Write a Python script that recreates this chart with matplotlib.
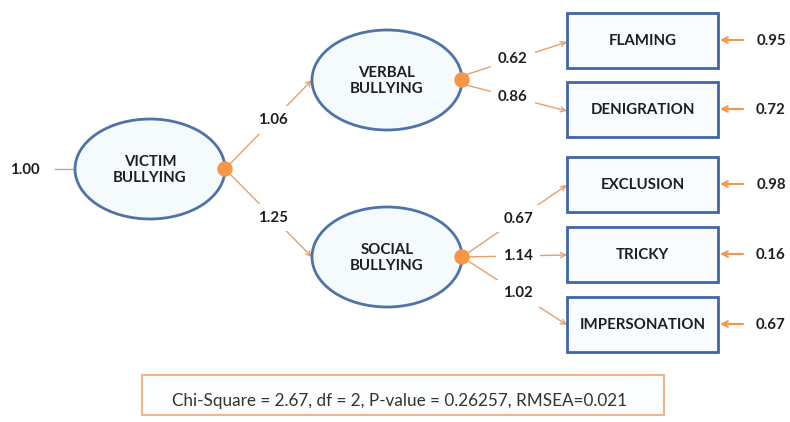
import matplotlib.pyplot as plt
from matplotlib.patches import Ellipse, Rectangle, Circle, FancyArrowPatch

# -------------------------------------------------
# Model values
# -------------------------------------------------
victim_name = 'VICTIM\nBULLYING'
factor_names = ['VERBAL\nBULLYING', 'SOCIAL\nBULLYING']
factor_loadings = [1.06, 1.25]
victim_variance = 1.00

verbal_items = ['FLAMING', 'DENIGRATION']
verbal_loadings = [0.62, 0.86]
social_items = ['EXCLUSION', 'TRICKY', 'IMPERSONATION']
social_loadings = [0.67, 1.14, 1.02]
item_errors = [0.95, 0.72, 0.98, 0.16, 0.67]

fit_text = 'Chi-Square = 2.67, df = 2, P-value = 0.26257, RMSEA=0.021'

# -------------------------------------------------
# Layout (pixel space)
# -------------------------------------------------
ell_w, ell_h = 150, 100
victim_xy = (150, 169)
factor_xy = [(387, 80), (387, 257)]
box_x, box_w, box_h = 567, 151, 55
box_y = [40, 109, 184, 254, 324]

ELL_EDGE = '#4f73a6'
ELL_FILL = '#f5fafd'
BOX_EDGE = '#4066a8'
BOX_FILL = '#f9fcfe'
DOT = '#f79646'
PATH = '#e5a06a'
TXT = '#1e1e1e'
FONT = 'Lato'
FS = 10.8

fig = plt.figure(figsize=(7.9, 4.22), dpi=100)
ax = fig.add_axes([0, 0, 1, 1])
ax.set_xlim(0, 790)
ax.set_ylim(422, 0)
ax.axis('off')


def ellipse(xy, name):
    ax.add_patch(Ellipse(xy, ell_w, ell_h, facecolor=ELL_FILL,
                         edgecolor=ELL_EDGE, lw=2, zorder=3))
    ax.text(xy[0], xy[1] + 1, name, ha='center', va='center', fontsize=FS,
            fontweight='bold', color=TXT, family=FONT, linespacing=1.2, zorder=4)
    dot = (xy[0] + ell_w / 2, xy[1])
    ax.add_patch(Circle(dot, 7, color=DOT, zorder=5))
    return dot


def path(start, end, value, label_x):
    ax.add_patch(FancyArrowPatch(start, end, arrowstyle='->', mutation_scale=9,
                                 color=PATH, lw=1, shrinkA=0, shrinkB=0, zorder=2))
    t = (label_x - start[0]) / (end[0] - start[0])
    ly = start[1] + t * (end[1] - start[1])
    ax.text(label_x, ly, f'{value:.2f}', ha='center', va='center', fontsize=FS,
            fontweight='bold', color=TXT, family=FONT, zorder=4,
            bbox=dict(boxstyle='square,pad=0.45', fc='white', ec='none'))


# Second-order factor
v_dot = ellipse(victim_xy, victim_name)
ax.plot([55, 75], [victim_xy[1], victim_xy[1]], color='#d59a88', lw=1, zorder=2)
ax.text(25, victim_xy[1] + 1, f'{victim_variance:.2f}', ha='center', va='center',
        fontsize=FS, fontweight='bold', color=TXT, family=FONT)

f_dots = []
for xy, name, val in zip(factor_xy, factor_names, factor_loadings):
    f_dots.append(ellipse(xy, name))
    path(v_dot, (xy[0] - ell_w / 2, xy[1]), val, 273)

# Indicators
items = verbal_items + social_items
for name, y, err in zip(items, box_y, item_errors):
    ax.add_patch(Rectangle((box_x, y - box_h / 2), box_w, box_h, facecolor=BOX_FILL,
                           edgecolor=BOX_EDGE, lw=2, zorder=3))
    ax.text(box_x + box_w / 2, y + 1, name, ha='center', va='center', fontsize=FS,
            fontweight='bold', color=TXT, family=FONT, zorder=4)
    ax.add_patch(FancyArrowPatch((743, y), (box_x + box_w + 2, y), arrowstyle='->',
                                 mutation_scale=10, color=DOT, lw=1.5,
                                 shrinkA=0, shrinkB=0, zorder=2))
    ax.text(771, y + 1, f'{err:.2f}', ha='center', va='center', fontsize=FS,
            fontweight='bold', color=TXT, family=FONT)

vd = f_dots[0]
for i, (y, val) in enumerate(zip(box_y[:2], verbal_loadings)):
    start = (vd[0], vd[1] - 4 + 8 * i)
    path(start, (box_x, y + 2), val, 513)

sd = f_dots[1]
for y, val in zip(box_y[2:], social_loadings):
    path(sd, (box_x, y + 1), val, 518)

# Fit indices box
ax.add_patch(Rectangle((142, 375), 522, 40, facecolor='#fbfdfe',
                       edgecolor='#f2b48c', lw=1.5, zorder=2))
ax.text(400, 401, fit_text, ha='center', va='center', fontsize=12.3,
        color='#333333', family=FONT, zorder=3)

fig.savefig('out.png', dpi=100)
